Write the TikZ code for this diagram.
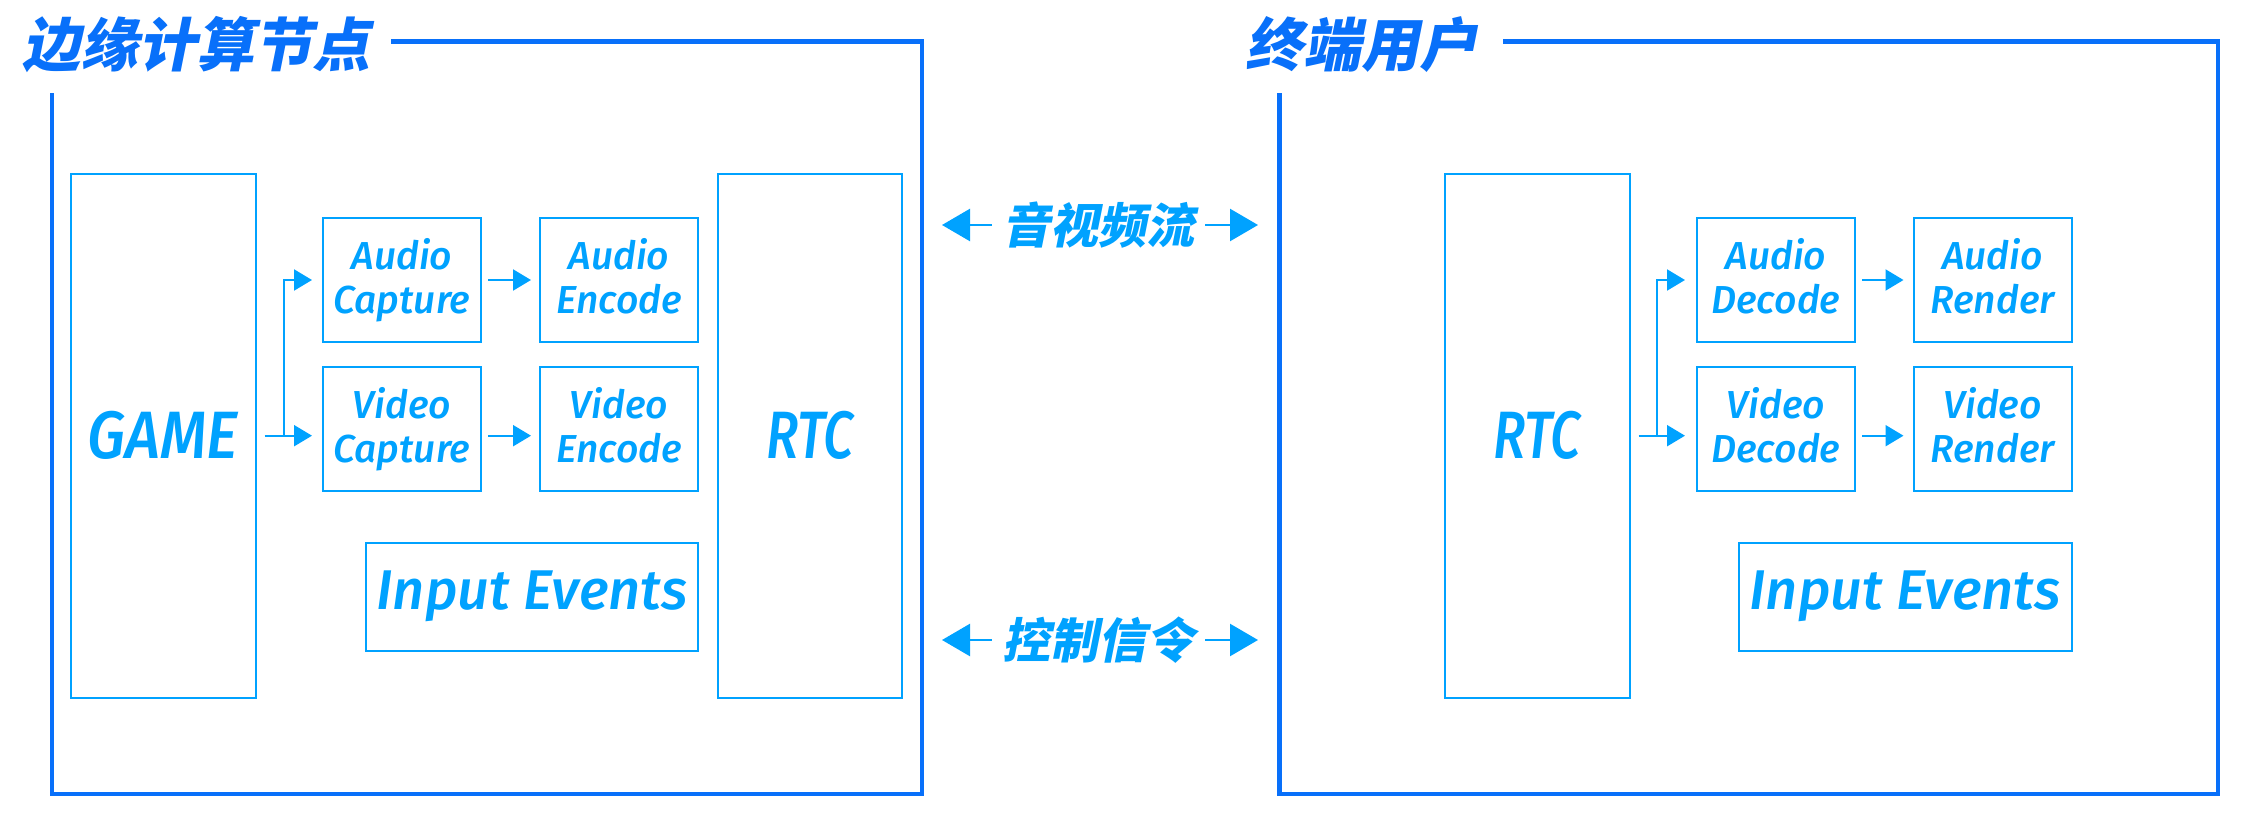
\documentclass[tikz,border=0pt]{standalone}
\usepackage{fontspec}
\usetikzlibrary{arrows.meta}
\newfontfamily\cjkt[FakeSlant=0.2]{Noto Sans CJK SC}
\newfontfamily\en[UprightFont={Fira Sans Medium Italic}]{Fira Sans}
\newfontfamily\enc[UprightFont={Fira Sans Medium Italic},FakeStretch=0.8]{Fira Sans}
\newfontfamily\encc[UprightFont={Fira Sans Medium Italic},FakeStretch=0.9]{Fira Sans}
\definecolor{darkblue}{RGB}{8,112,250}
\definecolor{lightblue}{RGB}{0,162,255}
\newcommand\dline[2]{#1\\#2\vphantom{p}}
\tikzset{
  blk/.style={draw=lightblue, line width=2pt, inner sep=0pt, text=lightblue, align=center,
    font=\en\fontsize{39}{44}\selectfont, minimum width=158pt, minimum height=124pt},
  tall/.style={draw=lightblue, line width=2pt, inner sep=0pt, text=lightblue,
    font=\enc\fontsize{67}{67}\selectfont, minimum width=185pt, minimum height=524pt},
  wide/.style={draw=lightblue, line width=2pt, inner sep=0pt, text=lightblue,
    font=\en\fontsize{56}{56}\selectfont, minimum width=332pt, minimum height=108pt},
  frame/.style={draw=darkblue, line width=4.5pt},
  ttl/.style={inner sep=0pt, text=darkblue, font=\cjkt\bfseries\fontsize{58}{58}\selectfont},
  lbl/.style={inner sep=0pt, text=lightblue, minimum width=213.3pt, font=\cjkt\bfseries\fontsize{48}{48}\selectfont},
  small/.style={draw=lightblue, line width=2pt, -{Triangle[length=18pt 0 0,width=21pt 0 0]}},
  bigarr/.style={draw=lightblue, line width=2.5pt, -{Triangle[length=28pt 0 0,width=32pt 0 0]}},
}
\begin{document}
\begin{tikzpicture}[x=1pt,y=-1pt]
\useasboundingbox[fill=white] (0,0) rectangle (2251,816);
% frames
\node[ttl] (t1) at (197,45) {边缘计算节点};
\node[ttl] (t2) at (1361.5,45) {终端用户};
\draw[frame] (391,41.6) -- (922,41.6) -- (922,794) -- (52,794) -- (52,92.7);
\draw[frame] (1503,41.6) -- (2218,41.6) -- (2218,794) -- (1279.5,794) -- (1279.5,92.7);
% left panel
\node[tall, font=\encc\fontsize{67}{67}\selectfont] (game) at (163,435.7) {GAME};
\node[blk] (ac) at (402,280) {\dline{Audio}{Capture}};
\node[blk] (ae) at (619,280) {\dline{Audio}{Encode}};
\node[blk] (vc) at (402,429) {\dline{Video}{Capture}};
\node[blk] (ve) at (619,429) {\dline{Video}{Encode}};
\node[wide] (ie1) at (532,596.5) {Input Events};
\node[tall, minimum width=183.6pt] (rtc1) at (809.8,435.7) {RTC};
% right panel
\node[tall] (rtc2) at (1537,435.7) {RTC};
\node[blk] (ad) at (1776,280) {\dline{Audio}{Decode}};
\node[blk] (ar) at (1992.5,280) {\dline{Audio}{Render}};
\node[blk] (vd) at (1776,429) {\dline{Video}{Decode}};
\node[blk] (vr) at (1992.5,429) {\dline{Video}{Render}};
\node[wide, minimum width=333pt] (ie2) at (1905,596.5) {Input Events};
% middle labels
\node[lbl] (av) at (1098.4,225) {音视频流};
\node[lbl] (ctl) at (1098.4,640) {控制信令};
\coordinate (avL) at (942,225);
\coordinate (avR) at (1258,225);
\coordinate (ctlL) at (942,640);
\coordinate (ctlR) at (1258,640);
\draw[bigarr] (av.west) -- (avL);
\draw[bigarr] (av.east) -- (avR);
\draw[bigarr] (ctl.west) -- (ctlL);
\draw[bigarr] (ctl.east) -- (ctlR);
% left arrows
\draw[small, shorten <=8pt, shorten >=10pt] (game.east) -- (game.east -| vc.west);
\draw[small, shorten >=10pt] (game.east) ++(27,0) |- (ac.west);
\draw[small, shorten <=6pt, shorten >=8pt] (ac) -- (ae);
\draw[small, shorten <=6pt, shorten >=8pt] (game.east -| vc.east) -- (game.east -| ve.west);
% right arrows
\draw[small, shorten <=8pt, shorten >=11pt] (rtc2.east) -- (rtc2.east -| vd.west);
\draw[small, shorten >=11pt] (rtc2.east) ++(26.5,0) |- (ad.west);
\draw[small, shorten <=6pt, shorten >=9pt] (ad) -- (ar);
\draw[small, shorten <=6pt, shorten >=9pt] (rtc2.east -| vd.east) -- (rtc2.east -| vr.west);
\end{tikzpicture}
\end{document}
